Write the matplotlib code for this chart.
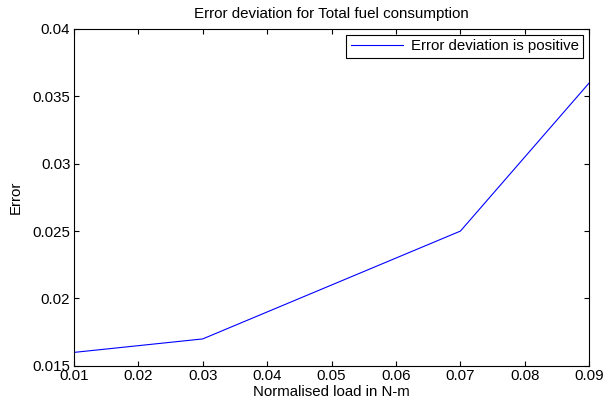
import matplotlib
matplotlib.use("Agg")
import matplotlib.pyplot as plt

load = [0.01, 0.03, 0.07, 0.09]
error = [0.016, 0.017, 0.025, 0.036]
x_ticks = [0.01, 0.02, 0.03, 0.04, 0.05, 0.06, 0.07, 0.08, 0.09]
y_ticks = [0.015, 0.02, 0.025, 0.03, 0.035, 0.04]

plt.rcParams["font.family"] = ["Liberation Sans", "DejaVu Sans"]
plt.rcParams["font.size"] = 10.8

fig = plt.figure(figsize=(6.05, 4.07), dpi=100)
ax = fig.add_axes([0.122, 0.101, 0.852, 0.828])

ax.plot(load, error, color="#0000ff", linewidth=0.8,
        label="Error deviation is positive")

ax.set_xlim(0.01, 0.09)
ax.set_ylim(0.015, 0.04)
ax.set_xticks(x_ticks)
ax.set_xticklabels([f"{v:g}" for v in x_ticks])
ax.set_yticks(y_ticks)
ax.set_yticklabels([f"{v:g}" for v in y_ticks])
ax.tick_params(direction="in", top=True, right=True, length=3.5, width=0.8,
               pad=2.5)
for s in ax.spines.values():
    s.set_linewidth(0.8)

ax.set_xlabel("Normalised load in N-m", labelpad=1)
ax.set_ylabel("Error", labelpad=7)
ax.set_title("Error deviation for Total fuel consumption", fontsize=10.9,
             pad=8)

leg = ax.legend(loc="upper right", fancybox=False, framealpha=1,
                edgecolor="black", borderpad=0.3, handlelength=3.5,
                handletextpad=0.5, borderaxespad=0.4)
leg.get_frame().set_linewidth(0.8)

fig.savefig("out.png", dpi=100)
